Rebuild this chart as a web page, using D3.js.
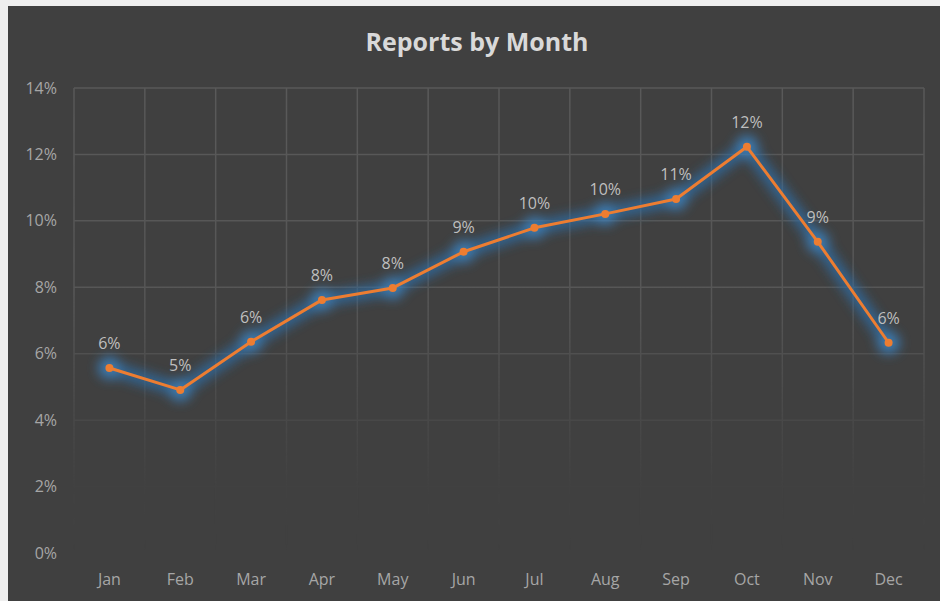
<!DOCTYPE html>
<html>
<head>
<meta charset="utf-8">
<script src="https://cdn.jsdelivr.net/npm/d3@7"></script>
<style>
  html, body { margin: 0; padding: 0; background: #efefef; }
  #chart { position: absolute; left: 8px; top: 6px; }
  text { font-family: "Open Sans", "Noto Sans", sans-serif; }
</style>
</head>
<body>
<div id="chart"></div>
<script>
// #####################################################
// Data
//
var months = ["Jan", "Feb", "Mar", "Apr", "May", "Jun", "Jul", "Aug", "Sep", "Oct", "Nov", "Dec"];
var share = [0.0557, 0.0491, 0.0636, 0.0762, 0.0798, 0.0907, 0.0979, 0.1021, 0.1066, 0.1223, 0.0937, 0.0633];
var yTicks = [0, 0.02, 0.04, 0.06, 0.08, 0.10, 0.12, 0.14];

// set the dimensions and margins of the graph
var totalW = 932, totalH = 595;
var margin = {top: 82, right: 16, bottom: 48, left: 66},
    width = totalW - margin.left - margin.right,
    height = totalH - margin.top - margin.bottom;

var svg0 = d3.select("#chart").append("svg")
    .attr("width", totalW)
    .attr("height", totalH);

svg0.append("rect")
    .attr("width", totalW)
    .attr("height", totalH)
    .style("fill", "#404040");

var defs = svg0.append("defs");

// grid fades out towards the bottom
var grad = defs.append("linearGradient")
    .attr("id", "gridFade")
    .attr("gradientUnits", "userSpaceOnUse")
    .attr("x1", 0).attr("y1", 0).attr("x2", 0).attr("y2", height);
grad.append("stop").attr("offset", "0%").attr("stop-color", "#fff").attr("stop-opacity", 1);
grad.append("stop").attr("offset", "45%").attr("stop-color", "#fff").attr("stop-opacity", 0.9);
grad.append("stop").attr("offset", "86%").attr("stop-color", "#fff").attr("stop-opacity", 0.05);
grad.append("stop").attr("offset", "100%").attr("stop-color", "#fff").attr("stop-opacity", 0);

var mask = defs.append("mask").attr("id", "gridMask");
mask.append("rect")
    .attr("x", -5).attr("y", -5)
    .attr("width", width + 10).attr("height", height + 10)
    .style("fill", "url(#gridFade)");

var glow = defs.append("filter")
    .attr("id", "glow")
    .attr("x", "-20%").attr("y", "-20%")
    .attr("width", "140%").attr("height", "140%");
glow.append("feGaussianBlur").attr("stdDeviation", 6);

var svg = svg0.append("g")
    .attr("transform", "translate(" + margin.left + "," + margin.top + ")");

// set the scales
var x = d3.scaleBand().domain(months).range([0, width]);
var y = d3.scaleLinear().domain([0, 0.14]).range([height, 0]);

// Grid
var grid = svg.append("g").attr("mask", "url(#gridMask)");
grid.selectAll(".hgrid")
    .data(yTicks.filter(function(d) { return d > 0; }))
    .enter().append("line")
      .attr("x1", 0).attr("x2", width)
      .attr("y1", function(d) { return y(d); })
      .attr("y2", function(d) { return y(d); })
      .style("stroke", "#595959")
      .attr("stroke-width", 1.5);

grid.selectAll(".vgrid")
    .data(d3.range(months.length + 1))
    .enter().append("line")
      .attr("x1", function(i) { return i * x.bandwidth(); })
      .attr("x2", function(i) { return i * x.bandwidth(); })
      .attr("y1", 0).attr("y2", height)
      .style("stroke", "#595959")
      .attr("stroke-width", 1.5);

// Y Axis
var yAxis = svg.append("g")
    .call(d3.axisLeft(y).tickValues(yTicks).tickFormat(d3.format(".0%")).tickSize(0).tickPadding(17));
yAxis.select(".domain").remove();
yAxis.selectAll("text")
    .style("fill", "#a6a6a6")
    .style("font-size", "16px");

// X Axis
var xAxis = svg.append("g")
    .attr("transform", "translate(0," + height + ")")
    .call(d3.axisBottom(x).tickSize(0).tickPadding(21));
xAxis.select(".domain").remove();
xAxis.selectAll("text")
    .style("fill", "#a6a6a6")
    .style("font-size", "16px");

var pts = months.map(function(m, i) { return {month: m, value: share[i]}; });

var line = d3.line()
    .x(function(d) { return x(d.month) + x.bandwidth() / 2; })
    .y(function(d) { return y(d.value); });

// glow
var glowG = svg.append("g").attr("filter", "url(#glow)").style("opacity", 0.85);
glowG.append("path")
    .datum(pts)
    .attr("fill", "none")
    .attr("stroke", "#2e6da4")
    .attr("stroke-width", 13)
    .attr("stroke-linejoin", "round")
    .attr("d", line);
glowG.selectAll("circle")
    .data(pts)
    .enter().append("circle")
      .attr("cx", function(d) { return x(d.month) + x.bandwidth() / 2; })
      .attr("cy", function(d) { return y(d.value); })
      .attr("r", 11)
      .style("fill", "#3a86c8");

svg.append("path")
    .datum(pts)
    .attr("fill", "none")
    .attr("stroke", "#ed7d31")
    .attr("stroke-width", 3)
    .attr("stroke-linejoin", "round")
    .attr("d", line);

svg.selectAll(".dot")
    .data(pts)
    .enter().append("circle")
      .attr("cx", function(d) { return x(d.month) + x.bandwidth() / 2; })
      .attr("cy", function(d) { return y(d.value); })
      .attr("r", 4)
      .style("fill", "#ed7d31");

// Data labels
svg.selectAll(".lbl")
    .data(pts)
    .enter().append("text")
      .attr("x", function(d) { return x(d.month) + x.bandwidth() / 2; })
      .attr("y", function(d) { return y(d.value) - 19; })
      .attr("text-anchor", "middle")
      .style("fill", "#bfbfbf")
      .style("font-size", "16px")
      .text(function(d) { return d3.format(".0%")(d.value); });

// Title
svg0.append("text")
    .attr("x", 469)
    .attr("y", 45)
    .attr("text-anchor", "middle")
    .style("fill", "#d9d9d9")
    .style("font-size", "25px")
    .style("font-weight", "bold")
    .text("Reports by Month");
</script>
</body>
</html>
